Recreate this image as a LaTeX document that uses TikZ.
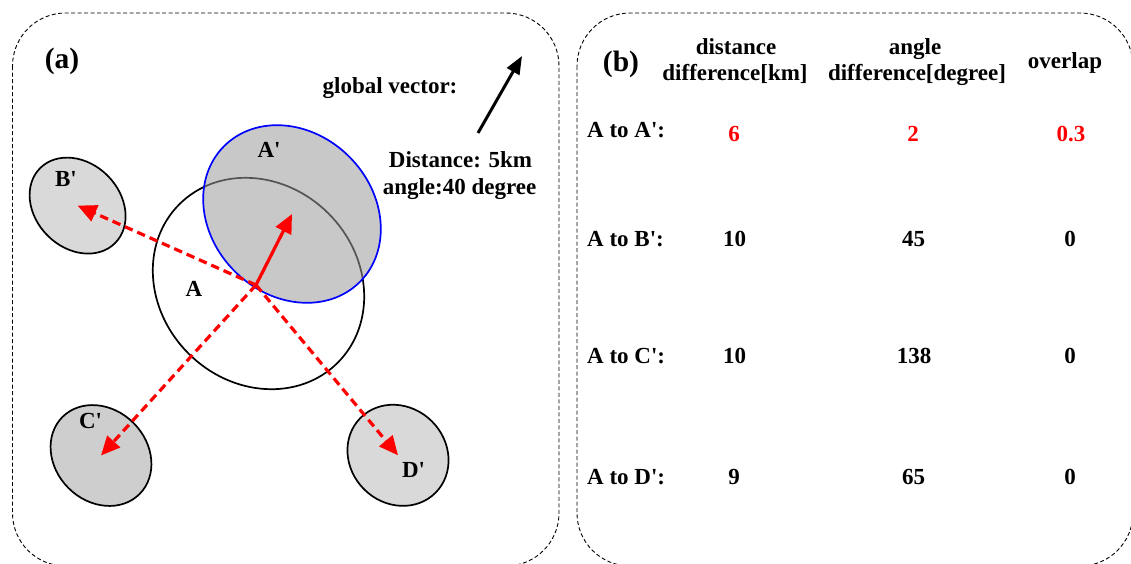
\documentclass[tikz,border=0pt]{standalone}
\usepackage{fontspec}
\setmainfont{Liberation Serif}
\usepackage{xcolor}
\usetikzlibrary{positioning, arrows.meta, calc}

\definecolor{shadeA}{RGB}{155,155,155}
\definecolor{shadeB}{RGB}{217,217,217}
\definecolor{shadeC}{RGB}{206,206,206}
\newcommand{\sq}{\textquotesingle}

\begin{document}
\begin{tikzpicture}[
		x=1pt, y=-1pt,
		% --- ESTILOS ---
		frame/.style={
			draw, dash pattern=on 4pt off 2.5pt, line width=0.9pt, rounded corners=53pt
		},
		zone/.style={
			draw, line width=1.7pt
		},
		lbl/.style={
			font=\bfseries\fontsize{23}{26}\selectfont, inner sep=0pt, anchor=base
		},
		rowlbl/.style={
			lbl, anchor=base west
		},
		tag/.style={
			font=\bfseries\fontsize{29.5}{32}\selectfont, inner sep=0pt, anchor=base
		},
		redline/.style={
			draw, red, line width=3.2pt, -{Triangle[length=19pt,width=17pt]}
		},
		reddash/.style={
			redline, dash pattern=on 8.5pt off 5pt
		},
		gline/.style={
			draw, black, line width=3pt, -{Triangle[length=18pt,width=14pt]}
		}
	]
	\useasboundingbox (0,0) rectangle (1131,563);
	
	% --- 1. Marcos ---
	\draw [frame] (12.5,13) rectangle (559,566);
	\draw [frame] (577,13) rectangle (1133,566);
	
	% --- 2. Regiones (a) ---
	\coordinate (cA)  at (258.5,283.5);
	\coordinate (cAp) at (292,214);
	\coordinate (cB)  at (77.6,205.6);
	\coordinate (cC)  at (101,455.5);
	\coordinate (cD)  at (398,455.3);
	\coordinate (origin) at (256,285);
	
	\draw [zone, fill=shadeB, rotate around={-45:(cB)}] (cB) ellipse [x radius=53pt, y radius=42.4pt];
	\draw [zone, fill=shadeC, rotate around={-45:(cC)}] (cC) ellipse [x radius=54.5pt, y radius=46pt];
	\draw [zone, fill=shadeB, rotate around={-45:(cD)}] (cD) ellipse [x radius=53pt, y radius=48pt];
	\draw [zone, rotate around={-45:(cA)}] (cA) ellipse [x radius=112pt, y radius=99pt];
	% A' semitransparente encima de A
	\fill [shadeA, fill opacity=0.55, rotate around={-45:(cAp)}] (cAp) ellipse [x radius=96pt, y radius=81pt];
	\draw [zone, blue, rotate around={-45:(cAp)}] (cAp) ellipse [x radius=96pt, y radius=81pt];
	
	% Etiquetas
	\node [tag] (tag_a) at (62,68) {(a)};
	\node [lbl] (lbl_A)  at (194,296) {A};
	\node [lbl] (lbl_Ap) at (269,157.3) {A\sq};
	\node [lbl] (lbl_B)  at (66,186) {B\sq};
	\node [lbl] (lbl_C)  at (90.5,428.3) {C\sq};
	\node [lbl] (lbl_D)  at (413.5,477.3) {D\sq};
	
	% Vectores
	\draw [redline] (origin) -- (cAp);
	\draw [reddash] (origin) -- (cB);
	\draw [reddash] (origin) -- (cC);
	\draw [reddash] (origin) -- (cD);
	
	% --- 3. Vector global ---
	\node [lbl] (gv) at (390,93) {global vector:};
	\coordinate (gv_start) at (478,133);
	\coordinate (gv_end) at (522,56);
	\draw [gline] (gv_start) -- (gv_end);
	\node [lbl] (gv_dist) at (460.5,167.7) {Distance: 5km};
	\node [lbl] (gv_ang) at (459.5,194.3) {angle:40 degree};
	
	% --- 4. Tabla (b) ---
	\node [tag] (tag_b) at (621,71.6) {(b)};
	\node [lbl] (h1a) at (736,54.4) {distance};
	\node [lbl] (h1b) at (735,80.5) {difference[km]};
	\node [lbl] (h2a) at (915,54.4) {angle};
	\node [lbl] (h2b) at (917,80.5) {difference[degree]};
	\node [lbl] (h3)  at (1065,68) {overlap};
	
	\node [rowlbl] (r1) at (587,137) {A to A\sq:};
	\node [rowlbl] (r2) at (587,246.9) {A to B\sq:};
	\node [rowlbl] (r3) at (587,363.9) {A to C\sq:};
	\node [rowlbl] (r4) at (587,484) {A to D\sq:};
	
	\node [lbl, red] (v11) at (734,141.3) {6};
	\node [lbl, red] (v12) at (913,141.3) {2};
	\node [lbl, red] (v13) at (1071,141.3) {0.3};
	\node [lbl] (v21) at (734.5,246.9) {10};
	\node [lbl] (v22) at (913.5,246.9) {45};
	\node [lbl] (v23) at (1070,246.9) {0};
	\node [lbl] (v31) at (734.5,363.9) {10};
	\node [lbl] (v32) at (914,363.9) {138};
	\node [lbl] (v33) at (1070,363.9) {0};
	\node [lbl] (v41) at (734,484) {9};
	\node [lbl] (v42) at (913.5,484) {65};
	\node [lbl] (v43) at (1070,484) {0};
	
\end{tikzpicture}
\end{document}
